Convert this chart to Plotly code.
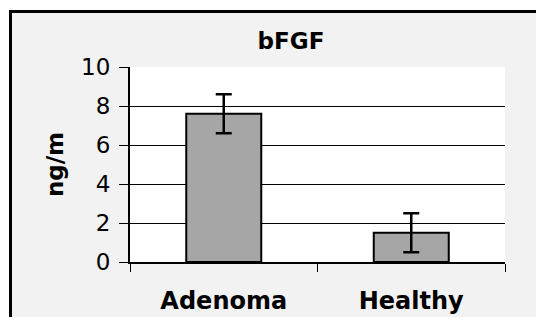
import plotly.graph_objects as go

categories = ["Adenoma", "Healthy"]
values = [7.6, 1.5]
errors = [1.0, 1.0]
y_ticks = [0, 2, 4, 6, 8, 10]
title_text = "bFGF"
y_title = "ng/m"

# the page body has an 8px margin; figure pixels = reference pixels - offset
OX, OY = 8, 10
W, H = 544 - 16, 325 - 16
L, R, T, B = 130 - OX, 505 - OX, 69 - OY, 264 - OY  # plot area pixels


def px(x):
    return (x - OX - L) / (R - L)


def py(y):
    return (B - (y - OY)) / (B - T)


fig = go.Figure()
fig.add_trace(go.Bar(
    x=categories, y=values, width=0.4,
    marker=dict(color="#a6a6a6", line=dict(color="black", width=2)),
    error_y=dict(type="data", array=errors, visible=True, color="black",
                 thickness=2.5, width=8),
    showlegend=False,
))

fig.update_layout(
    width=W, height=H,
    margin=dict(l=L, r=W - R, t=T, b=H - B, pad=0, autoexpand=False),
    paper_bgcolor="white",
    plot_bgcolor="white",
    font=dict(family="DejaVu Sans", color="black"),
    title=dict(text="<b>%s</b>" % title_text, x=px(291), xref="paper",
               xanchor="center", y=1 - (43 - OY) / H, yanchor="middle",
               automargin=False,
               font=dict(size=23, family="DejaVu Sans", color="black")),
    shapes=[
        dict(type="rect", xref="paper", yref="paper", layer="below",
             x0=px(10.5), x1=px(600), y0=py(13.5), y1=py(400),
             fillcolor="#f2f2f2", line=dict(color="black", width=3)),
        dict(type="rect", xref="paper", yref="paper", layer="below",
             x0=0, x1=1, y0=0, y1=1, fillcolor="white", line=dict(width=0)),
    ],
    bargap=0.6,
)

fig.update_xaxes(
    type="category", tickson="boundaries", ticks="outside", ticklen=8,
    tickwidth=1, tickcolor="black", showline=True, linecolor="black",
    linewidth=2, showgrid=False, automargin=False,
    tickfont=dict(size=24, family="DejaVu Sans", color="black"),
    ticktext=["<b>%s</b>" % c for c in categories], tickvals=categories,
    ticklabelstandoff=16,
)
fig.update_yaxes(
    range=[0, 10], tickvals=y_ticks, ticks="outside", ticklen=9,
    tickwidth=1, tickcolor="black", showline=True, linecolor="black",
    linewidth=2, showgrid=True, gridcolor="black", gridwidth=1,
    zeroline=False, automargin=False,
    tickfont=dict(size=23, family="DejaVu Sans", color="black"),
    ticklabelstandoff=4,
    title=dict(text="<b>%s</b>" % y_title, standoff=11,
               font=dict(size=23, family="DejaVu Sans", color="black")),
)

fig.write_html("out.html")
